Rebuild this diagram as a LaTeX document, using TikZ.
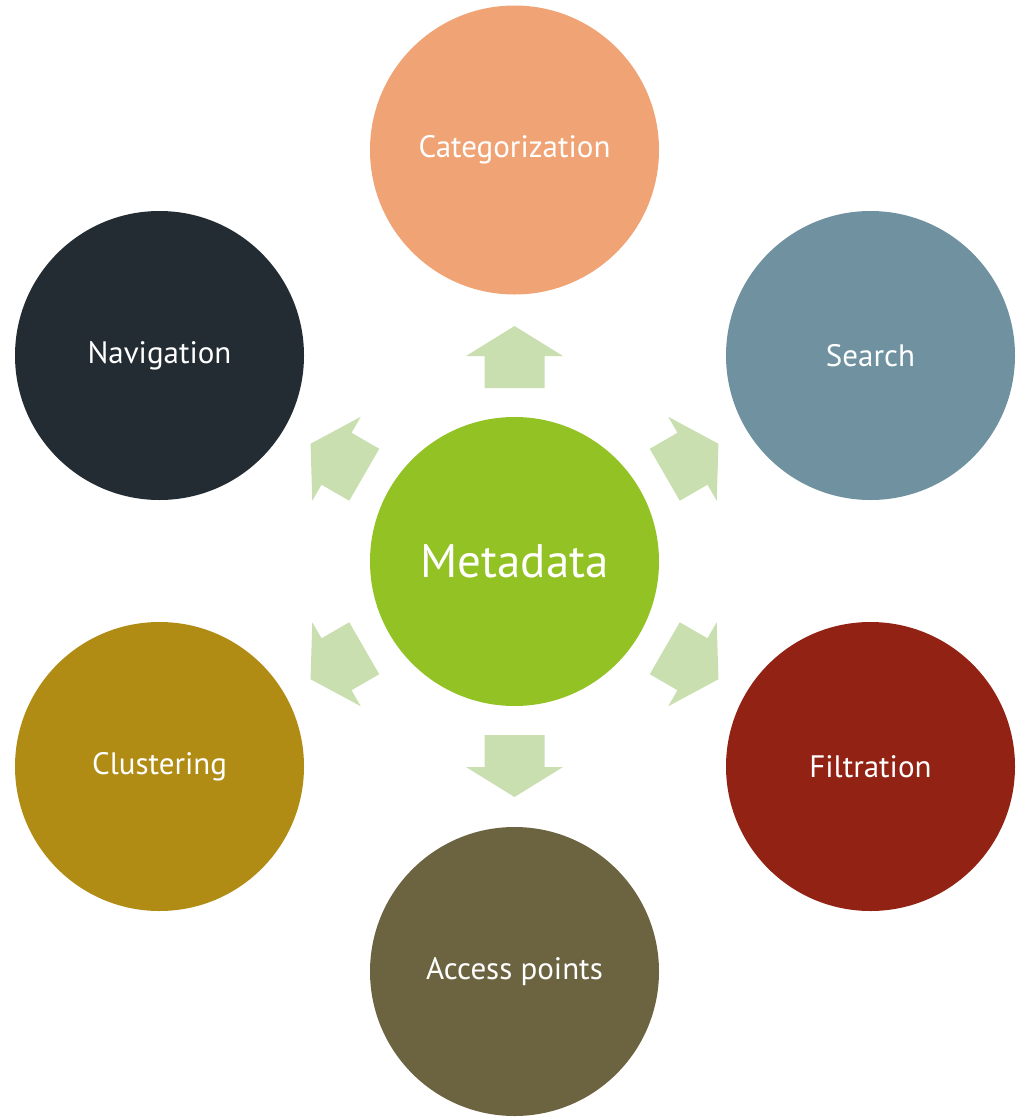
\documentclass[tikz,border=0pt]{standalone}
\usepackage{fontspec}
\setmainfont{PT Sans}
\definecolor{cCat}{HTML}{F0A374}
\definecolor{cSea}{HTML}{6F91A0}
\definecolor{cNav}{HTML}{232C33}
\definecolor{cClu}{HTML}{B08C15}
\definecolor{cFil}{HTML}{922214}
\definecolor{cAcc}{HTML}{6C6441}
\definecolor{cMet}{HTML}{93C225}
\definecolor{cArr}{HTML}{C9DFB0}
\begin{document}
\begin{tikzpicture}[x=1pt,y=-1pt,
  bubble/.style={circle, minimum size=289pt, inner sep=0pt, text=white, font=\fontsize{31}{34}\selectfont},
  blockarrow/.style={fill=cArr, draw=none}]
\useasboundingbox (0,0) rectangle (1023,1119);
\node[bubble, fill=cMet, font=\fontsize{47}{50}\selectfont] (met) at (514.5,561.5) {Metadata};
\node[bubble, fill=cCat] (cat) at (514.5,150) {Categorization};
\node[bubble, fill=cSea] (sea) at (870.5,355.5) {Search};
\node[bubble, fill=cFil] (fil) at (870.5,766.5) {Filtration};
\node[bubble, fill=cAcc] (acc) at (514.5,971.5) {Access points};
\node[bubble, fill=cClu] (clu) at (159.5,766.5) {Clustering};
\node[bubble, fill=cNav] (nav) at (159.5,355.5) {Navigation};
\foreach \ang in {90,30,-30,-90,-150,150}{
  \begin{scope}[shift={(met.center)}, rotate=\ang]
    \fill[blockarrow] (173.5,-30) -- (205.5,-30) -- (205.5,-48.5) -- (235.5,0)
      -- (205.5,48.5) -- (205.5,30) -- (173.5,30) -- cycle;
  \end{scope}
}
\end{tikzpicture}
\end{document}
